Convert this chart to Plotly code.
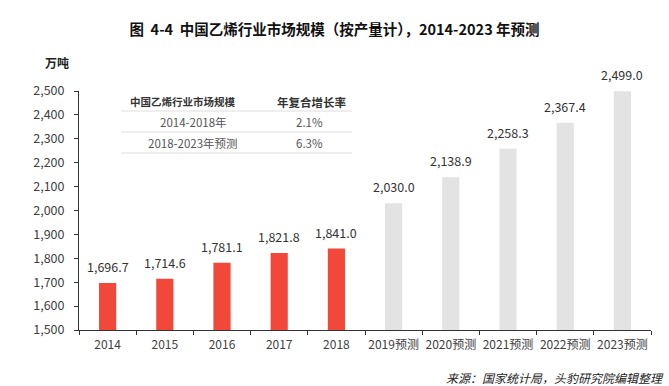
import plotly.graph_objects as go

categories = ["2014", "2015", "2016", "2017", "2018",
              "2019预测", "2020预测", "2021预测", "2022预测", "2023预测"]
values = [1696.7, 1714.6, 1781.1, 1821.8, 1841.0,
          2030.0, 2138.9, 2258.3, 2367.4, 2499.0]
is_forecast = [False] * 5 + [True] * 5
y_ticks = [1500, 1600, 1700, 1800, 1900, 2000, 2100, 2200, 2300, 2400, 2500]

table_header = ["中国乙烯行业市场规模", "年复合增长率"]
table_rows = [["2014-2018年", "2.1%"], ["2018-2023年预测", "6.3%"]]

RED = "#F2483A"
GRAY = "#E3E3E3"
FONT = "Noto Sans CJK SC"

colors = [GRAY if f else RED for f in is_forecast]

fig = go.Figure()
fig.add_trace(go.Bar(
    x=categories, y=values, marker=dict(color=colors, line=dict(width=0)),
    width=0.3, hoverinfo="skip",
))

W, H = 669, 386
L, R, T, B = 79, 18, 91, 56
pw, ph = W - L - R, H - T - B

fig.update_layout(
    width=W, height=H,
    margin=dict(l=L, r=R, t=T, b=B, autoexpand=False),
    plot_bgcolor="white", paper_bgcolor="white",
    showlegend=False,
    font=dict(family=FONT, size=12, color="#404040"),
    title=dict(text="<b>图  4-4  中国乙烯行业市场规模（按产量计），2014-2023 年预测</b>",
               x=0.5, xanchor="center", y=1 - 30 / H, yanchor="middle",
               font=dict(family=FONT, size=14.5, color="#111111")),
    xaxis=dict(type="category", categoryorder="array", categoryarray=categories,
               showline=True, linecolor="#333333", linewidth=1,
               ticks="outside", tickson="boundaries", ticklen=4, tickcolor="#333333",
               showgrid=False, tickangle=0, automargin=False, ticklabelstandoff=4,
               tickfont=dict(size=12, color="#404040")),
    yaxis=dict(range=[1500, 2500], tickvals=y_ticks, tickformat=",",
               showline=True, linecolor="#333333", linewidth=1,
               ticks="outside", ticklen=4, tickcolor="#333333",
               showgrid=False, zeroline=False, automargin=False, ticklabelstandoff=7,
               tickfont=dict(size=12.5, color="#404040")),
)


def px(x):
    return (x - L) / pw


def py(y):
    return (H - B - y) / ph


def note(text, x, y, size, color, xanchor="center"):
    return dict(text=text, x=px(x), y=py(y), xref="paper", yref="paper",
                xanchor=xanchor, yanchor="middle", showarrow=False,
                font=dict(size=size, color=color))


annotations = []
# value labels above bars (x given as category index)
for i, v in enumerate(values):
    annotations.append(dict(text=f"{v:,.1f}", x=i, y=v, xref="x", yref="y",
                            xanchor="center", yanchor="bottom", yshift=5,
                            showarrow=False,
                            font=dict(size=12.5, color="#333333")))
annotations += [
    note("<b>万吨</b>", 57, 63, 12, "#222222"),
    note(f"<b>{table_header[0]}</b>", 183, 102, 10.5, "#333333"),
    note(f"<b>{table_header[1]}</b>", 311, 102, 11.5, "#333333"),
]
row_y = [122, 143]
for r, yy in zip(table_rows, row_y):
    annotations.append(note(r[0], 193, yy, 11.5, "#555555"))
    annotations.append(note(r[1], 309, yy, 11.5, "#555555"))
annotations.append(note("<i>来源：国家统计局，头豹研究院编辑整理</i>", 666, 377, 12,
                        "#222222", xanchor="right"))
fig.update_layout(annotations=annotations)

shapes = []
for yy in [111, 132, 153]:
    shapes.append(dict(type="line", xref="paper", yref="paper",
                       x0=px(121), x1=px(352), y0=py(yy), y1=py(yy),
                       line=dict(color="#DDDDDD", width=1)))
fig.update_layout(shapes=shapes)

fig.write_html("out.html", config={"displayModeBar": False},
               post_script="document.body.style.margin='0';document.body.style.padding='0';")
